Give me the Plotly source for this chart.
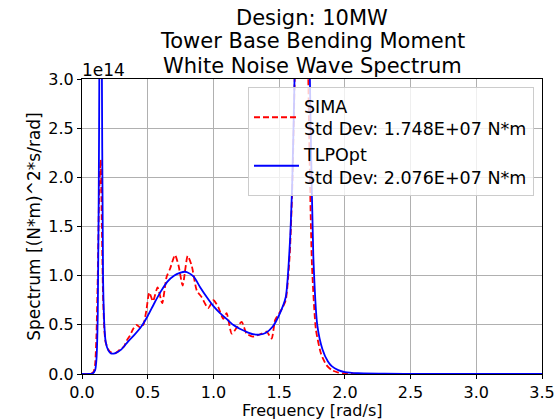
import plotly.graph_objects as go

# Values in units of 1e14 (N*m)^2*s/rad
f_sima = [0.0, 0.05, 0.08, 0.09, 0.10, 0.11, 0.12, 0.13, 0.142, 0.15, 0.16, 0.17, 0.18, 0.20, 0.22,
          0.25, 0.29, 0.32, 0.34, 0.365, 0.39, 0.416, 0.445, 0.467, 0.49, 0.512, 0.54, 0.575, 0.61,
          0.644, 0.67, 0.708, 0.735, 0.766, 0.804, 0.835, 0.873, 0.911, 0.96, 1.0, 1.037, 1.075,
          1.10, 1.139, 1.177, 1.215, 1.253, 1.30, 1.367, 1.405, 1.443, 1.47, 1.52, 1.55, 1.58, 1.60,
          1.62, 1.65, 1.68, 1.71, 1.73, 1.75, 1.78, 1.82, 1.86, 1.90, 1.95, 2.0, 2.1, 2.5, 3.0, 3.5]
s_sima = [0.0, 0.002, 0.01, 0.03, 0.10, 0.40, 1.0, 1.8, 2.18, 1.6, 0.8, 0.45, 0.32, 0.25, 0.22,
          0.21, 0.25, 0.28, 0.34, 0.39, 0.46, 0.50, 0.47, 0.50, 0.65, 0.83, 0.74, 0.88, 0.72,
          0.99, 1.07, 1.21, 1.10, 0.90, 1.20, 1.10, 0.85, 0.78, 0.67, 0.75, 0.68, 0.56,
          0.62, 0.41, 0.47, 0.53, 0.41, 0.38, 0.41, 0.43, 0.36, 0.55, 0.66, 0.75, 1.2, 1.9,
          3.1, 5.0, 5.5, 4.0, 2.3, 1.1, 0.45, 0.20, 0.09, 0.04, 0.015, 0.005, 0.002, 0.0005, 0.0002, 0.0001]

f_tlp = [0.0, 0.05, 0.08, 0.10, 0.11, 0.12, 0.13, 0.14, 0.15, 0.16, 0.17, 0.18, 0.20, 0.22, 0.25,
         0.30, 0.35, 0.40, 0.45, 0.50, 0.55, 0.60, 0.65, 0.70, 0.75, 0.78, 0.80, 0.85, 0.90, 0.95,
         1.0, 1.05, 1.10, 1.15, 1.20, 1.25, 1.30, 1.35, 1.40, 1.45, 1.50, 1.55, 1.58, 1.60, 1.62,
         1.65, 1.68, 1.71, 1.74, 1.76, 1.79, 1.83, 1.87, 1.90, 1.95, 2.0, 2.1, 2.3, 2.6, 3.0, 3.5]
s_tlp = [0.0, 0.0, 0.005, 0.04, 0.15, 0.6, 2.5, 6.0, 3.5, 1.0, 0.5, 0.33, 0.24, 0.21, 0.21,
         0.25, 0.33, 0.40, 0.48, 0.59, 0.72, 0.84, 0.94, 1.0, 1.03, 1.04, 1.035, 0.99, 0.88, 0.78,
         0.69, 0.62, 0.56, 0.50, 0.46, 0.43, 0.405, 0.40, 0.42, 0.48, 0.60, 0.78, 1.29, 1.97, 3.2,
         6.0, 7.0, 5.0, 2.5, 1.2, 0.5, 0.25, 0.13, 0.08, 0.04, 0.02, 0.008, 0.003, 0.001, 0.0005, 0.0002]

name_sima = "SIMA<br>Std Dev: 1.748E+07 N*m"
name_tlp = "TLPOpt<br>Std Dev: 2.076E+07 N*m"
title_lines = ["Design: 10MW", "Tower Base Bending Moment", "White Noise Wave Spectrum"]
x_title = "Frequency [rad/s]"
y_title = "Spectrum [(N*m)^2*s/rad]"
x_ticks = [0.0, 0.5, 1.0, 1.5, 2.0, 2.5, 3.0, 3.5]
y_ticks = [0.0, 0.5, 1.0, 1.5, 2.0, 2.5, 3.0]

FONT = "DejaVu Sans"
W, H = 554, 419
L, R, T, B = 82, 12, 79, 45
PH = H - T - B


def py_to_paper(py):
    return (H - B - py) / PH


fig = go.Figure()
fig.add_trace(go.Scatter(x=f_sima, y=s_sima, mode="lines", name=name_sima,
                         line=dict(color="#ff0000", width=1.8, dash="6px,3px",
                                   shape="spline", smoothing=0.6)))
fig.add_trace(go.Scatter(x=f_tlp, y=s_tlp, mode="lines", name=name_tlp,
                         line=dict(color="#0000ff", width=1.8, shape="spline", smoothing=0.6)))

axis_common = dict(showline=True, linecolor="black", linewidth=1, mirror=True,
                   ticks="outside", ticklen=4, tickwidth=1, tickcolor="black",
                   showgrid=True, gridcolor="#b0b0b0", gridwidth=1, zeroline=False,
                   tickfont=dict(family=FONT, size=16, color="black"),
                   tickformat=".1f", automargin=False, ticklabeloverflow="allow")

fig.update_layout(
    width=W, height=H,
    margin=dict(l=L, r=R, t=T, b=B),
    paper_bgcolor="white", plot_bgcolor="white",
    font=dict(family=FONT, size=16, color="black"),
    xaxis=dict(range=[0, 3.5], tickvals=x_ticks, **axis_common),
    yaxis=dict(range=[0, 3.0], tickvals=y_ticks,
               title=dict(text=y_title, font=dict(family=FONT, size=17), standoff=3),
               **axis_common),
    legend=dict(x=(534 - L) / (W - L - R), y=py_to_paper(87), xanchor="right", yanchor="top",
                bgcolor="rgba(255,255,255,0.8)", bordercolor="#cccccc", borderwidth=1,
                font=dict(family=FONT, size=17.5, color="black"), valign="middle",
                tracegroupgap=0, itemwidth=45),
    showlegend=True,
)

for line, cy in zip(title_lines, [17.5, 41.5, 66.5]):
    fig.add_annotation(text=line, xref="paper", yref="paper", x=0.5, y=py_to_paper(cy),
                       xanchor="center", yanchor="middle", showarrow=False,
                       font=dict(family=FONT, size=21, color="black"))

fig.add_annotation(text=x_title, xref="paper", yref="paper", x=0.5, y=py_to_paper(410),
                   xanchor="center", yanchor="middle", showarrow=False,
                   font=dict(family=FONT, size=16, color="black"))

fig.add_annotation(text="1e14", xref="paper", yref="paper", x=0, y=py_to_paper(70),
                   xanchor="left", yanchor="middle", showarrow=False,
                   font=dict(family=FONT, size=17, color="black"), xshift=-2)

fig.write_html("out.html")
